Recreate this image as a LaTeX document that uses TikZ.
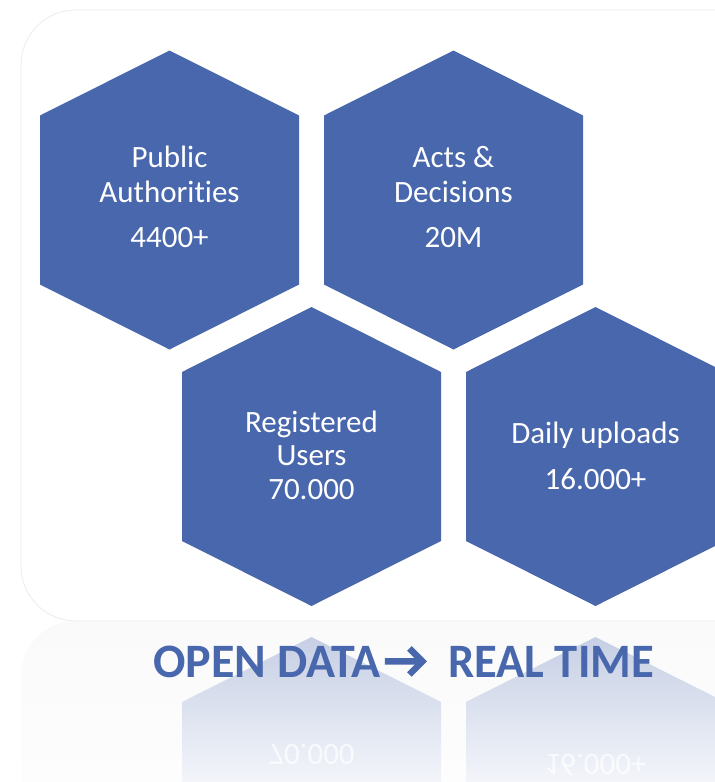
\documentclass[tikz,border=0pt]{standalone}
\usepackage{fontspec}
\setmainfont[Ligatures=NoCommon]{Carlito}
\usetikzlibrary{arrows.meta}
\definecolor{hexblue}{RGB}{72,103,172}
\definecolor{reflTop}{RGB}{196,205,227}
\definecolor{reflBot}{RGB}{243,245,250}
\definecolor{frameGray}{RGB}{236,236,236}
\definecolor{reflBg}{RGB}{250,250,250}
\newcommand{\hexshape}[2]{(#1,#2-149.5) -- ++(129.5,65) -- ++(0,169) -- ++(-129.5,65) -- ++(-129.5,-65) -- ++(0,-169) -- cycle}
\begin{document}
\begin{tikzpicture}[x=1pt,y=-1pt,
  hexfill/.style={fill=hexblue},
  hexlabel/.style={text=white, font=\fontsize{31}{35}\selectfont, anchor=base, inner sep=0pt},
  refllabel/.style={text=white, opacity=0.75, font=\fontsize{31}{35}\selectfont, anchor=base, inner sep=0pt, yscale=-1},
  titletext/.style={text=hexblue, font=\bfseries\fontsize{48}{58}\selectfont, anchor=base west, inner sep=0pt},
  titlearrow/.style={draw=hexblue, line width=6.5pt, -{Straight Barb[length=13pt,width=26pt]}}
]
\useasboundingbox (0,0) rectangle (715,782);
\fill[white] (0,0) rectangle (715,782);
% frame and its reflection
\shade[top color=reflBg, bottom color=white, rounded corners=55pt] (21,621) rectangle (780,900);
\draw[frameGray, line width=0.8pt, rounded corners=55pt] (21,10) rectangle (780,621);
% hexagons
\fill[hexfill] \hexshape{169.5}{200};
\fill[hexfill] \hexshape{453.5}{200};
\fill[hexfill] \hexshape{311.5}{456.5};
\fill[hexfill] \hexshape{595.5}{456.5};
% reflections
\begin{scope}
  \clip \hexshape{311.5}{786.5} \hexshape{595.5}{786.5};
  \shade[top color=reflTop, bottom color=reflBot] (0,630) rectangle (715,782);
  \node[refllabel] (r3) at (311.5,744) {70.000};
  \node[refllabel] (r4) at (595.5,754) {16.000+};
\end{scope}
% labels
\node[hexlabel] (pa1) at (169.5,167) {Public};
\node[hexlabel] (pa2) at (169.5,202) {Authorities};
\node[hexlabel] (pa3) at (169.5,247) {4400+};
\node[hexlabel] (ad1) at (453.5,167) {Acts \&};
\node[hexlabel] (ad2) at (453.5,202) {Decisions};
\node[hexlabel] (ad3) at (453.5,247) {20M};
\node[hexlabel] (ru1) at (311.5,432) {Registered};
\node[hexlabel] (ru2) at (311.5,465.5) {Users};
\node[hexlabel] (ru3) at (311.5,499) {70.000};
\node[hexlabel] (du1) at (595.5,443) {Daily uploads};
\node[hexlabel] (du2) at (595.5,489) {16.000+};
% title
\node[titletext] (t1) at (153,677) {OPEN DATA};
\node[titletext, xscale=0.97] (t2) at (448,677) {REAL TIME};
\draw[titlearrow] ([xshift=4pt]t1.east) -- ([xshift=-21pt]t2.west);
\end{tikzpicture}
\end{document}
